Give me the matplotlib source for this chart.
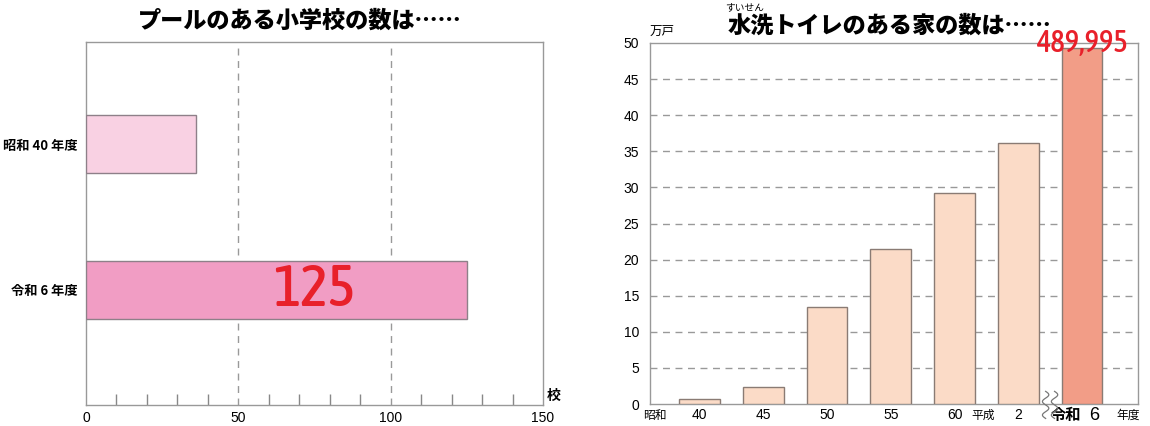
import matplotlib
matplotlib.use("Agg")
import matplotlib.pyplot as plt
import matplotlib.transforms as mtransforms
import numpy as np

plt.rcParams['font.family'] = ['Liberation Sans', 'Noto Sans CJK JP', 'DejaVu Sans']

# ---- data ----
pool_labels = ["昭和 40 年度", "令和 6 年度"]
pool_values = [36, 125]
pool_colors = ["#F9D1E3", "#F19DC4"]
pool_ticks = [0, 50, 100, 150]

toilet_labels = ["40", "45", "50", "55", "60", "2", "6"]
toilet_values = [0.7, 2.4, 13.5, 21.5, 29.2, 36.1, 49.3]
toilet_colors = ["#FBDBC7"] * 6 + ["#F29D87"]
toilet_yticks = [0, 5, 10, 15, 20, 25, 30, 35, 40, 45, 50]

W, H = 1150, 426
fig = plt.figure(figsize=(W / 100, H / 100), dpi=100)

RED = "#E8202A"
NARROW = ['Asap Condensed', 'Barlow Semi Condensed', 'Liberation Sans', 'DejaVu Sans']

# ---------------- left chart ----------------
ax1 = fig.add_axes([86 / W, 21 / H, 457 / W, 363 / H])
ypos = np.arange(len(pool_values))
ax1.barh(ypos, pool_values, height=0.40, color=pool_colors,
         edgecolor="#8E8089", linewidth=1, zorder=3)
ax1.set_xlim(0, 150)
ax1.set_ylim(1.79, -0.70)
ax1.set_xticks(pool_ticks)
ax1.set_xticks(np.arange(0, 151, 10), minor=True)
ax1.tick_params(axis='x', which='major', length=0, pad=4, labelsize=10)
ax1.tick_params(axis='x', which='minor', direction='in', length=8,
                color="#888888", width=1)
ax1.set_yticks(ypos)
ax1.set_yticklabels(pool_labels, fontsize=9.5, fontweight='bold',
                    family=['Noto Sans CJK JP', 'DejaVu Sans'])
ax1.tick_params(axis='y', length=0, pad=6)
for v in [50, 100]:
    ax1.axvline(v, color="#999999", linestyle=(0, (5, 4)), linewidth=1, zorder=1)
for s in ax1.spines.values():
    s.set_color("#999999")
    s.set_linewidth(1)
ax1.text(1.008, 0.005, "校", transform=ax1.transAxes, ha='left', va='bottom',
         fontsize=10, fontweight='bold', family=['Noto Sans CJK JP'])
ax1.text(np.mean(pool_ticks[1:3]), ypos[1], str(pool_values[1]), color=RED,
         fontsize=42, fontweight='medium', ha='center', va='center',
         family=NARROW, zorder=5)
fig.text(300 / W, 1 - 20 / H, "プールのある小学校の数は……", ha='center', va='center',
         fontsize=16.7, fontweight='heavy', family=['Noto Sans CJK JP', 'DejaVu Sans'])

# ---------------- right chart ----------------
ax2 = fig.add_axes([650 / W, 22 / H, 488 / W, 361 / H])
xpos = np.arange(len(toilet_values))
ax2.bar(xpos, toilet_values, width=0.64, color=toilet_colors,
        edgecolor="#8A7B74", linewidth=1, zorder=3)
ax2.set_xlim(-0.78, 6.88)
ax2.set_ylim(0, 50)
ax2.set_yticks(toilet_yticks)
ax2.tick_params(axis='y', length=0, pad=8, labelsize=10)
ax2.set_xticks([])
for v in toilet_yticks[1:-1]:
    ax2.axhline(v, color="#999999", linestyle=(0, (5, 4)), linewidth=1, zorder=1)
for s in ax2.spines.values():
    s.set_color("#999999")
    s.set_linewidth(1)

bt = mtransforms.blended_transform_factory(ax2.transData, ax2.transAxes)
LY = -0.031
for i, lab in enumerate(toilet_labels[:6]):
    ax2.text(xpos[i], LY, lab, transform=bt, ha='center', va='center', fontsize=10)
ax2.text(-0.7, LY, "昭和", transform=bt, ha='center', va='center', fontsize=8.5,
         family=['Noto Sans CJK JP'])
ax2.text(xpos[5] - 0.55, LY, "平成", transform=bt, ha='center', va='center', fontsize=8.5,
         family=['Noto Sans CJK JP'])
ax2.text(xpos[6] - 0.02, LY, "令和", transform=bt, ha='right', va='center', fontsize=11,
         fontweight='bold', family=['Noto Sans CJK JP'])
ax2.text(xpos[6] + 0.12, LY, toilet_labels[6], transform=bt, ha='left', va='center',
         fontsize=13)
ax2.text(xpos[6] + 0.72, LY, "年度", transform=bt, ha='center', va='center', fontsize=8.5,
         family=['Noto Sans CJK JP'])
ax2.text(0.0, 1.015, "万戸", transform=ax2.transAxes, ha='left', va='bottom', fontsize=9,
         family=['Noto Sans CJK JP'])

# break squiggle
t = np.linspace(0, 1, 60)
for dx in (-0.07, 0.07):
    xs = 5.5 + dx + 0.05 * np.sin(t * 2 * np.pi * 2)
    ys = 0.035 - t * 0.075
    ax2.plot(xs, ys, transform=bt, color="#777777", linewidth=0.9, clip_on=False, zorder=6)

ax2.text(xpos[6], 49.9, "489,995", color=RED, fontsize=22, fontweight='medium',
         ha='center', va='center', family=NARROW, zorder=6, clip_on=False)

fig.text(890 / W, 1 - 25 / H, "水洗トイレのある家の数は……", ha='center', va='center',
         fontsize=16.7, fontweight='heavy', family=['Noto Sans CJK JP', 'DejaVu Sans'])
fig.text(745 / W, 1 - 7 / H, "すいせん", ha='center', va='center', fontsize=7,
         family=['Noto Sans CJK JP'])

fig.savefig("out.png", dpi=100)
